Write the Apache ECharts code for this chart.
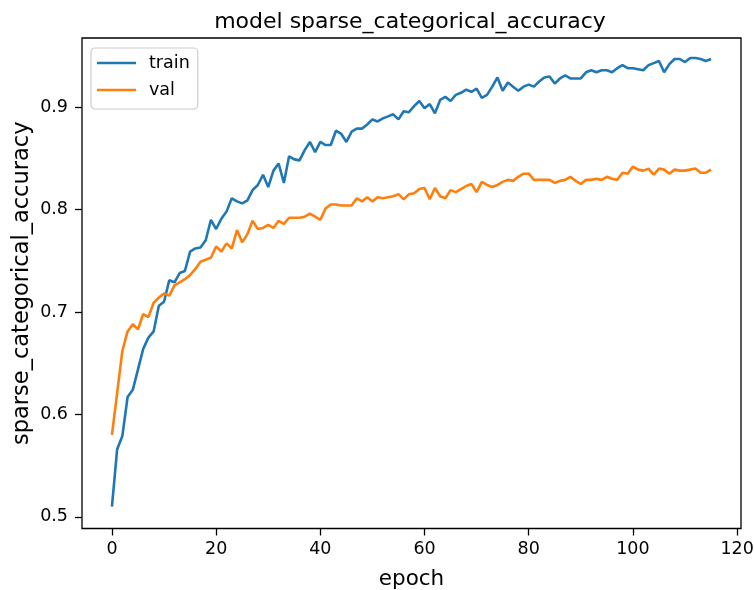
<!DOCTYPE html>
<html>
<head>
<meta charset="utf-8">
<title>model sparse_categorical_accuracy</title>
<script src="https://cdn.jsdelivr.net/npm/echarts@6/dist/echarts.min.js"></script>
<style>
  html, body { margin: 0; padding: 0; background: #fff; }
  #chart { width: 754px; height: 590px; }
</style>
</head>
<body>
<div id="chart"></div>
<script>
// accuracy per epoch (0..115)
const trainAcc = [
  0.510, 0.566, 0.579, 0.617, 0.624, 0.644, 0.664, 0.675, 0.681, 0.706,
  0.710, 0.731, 0.729, 0.738, 0.740, 0.759, 0.762, 0.763, 0.770, 0.790,
  0.781, 0.791, 0.798, 0.811, 0.808, 0.806, 0.809, 0.819, 0.824, 0.834,
  0.822, 0.838, 0.845, 0.826, 0.852, 0.849, 0.848, 0.858, 0.866, 0.856,
  0.866, 0.863, 0.863, 0.877, 0.874, 0.866, 0.876, 0.879, 0.879, 0.883,
  0.888, 0.886, 0.889, 0.891, 0.893, 0.888, 0.896, 0.895, 0.901, 0.906,
  0.899, 0.903, 0.894, 0.907, 0.910, 0.906, 0.912, 0.914, 0.917, 0.915,
  0.918, 0.909, 0.912, 0.920, 0.929, 0.916, 0.924, 0.920, 0.916, 0.920,
  0.922, 0.920, 0.925, 0.929, 0.930, 0.923, 0.928, 0.931, 0.928, 0.928,
  0.928, 0.934, 0.936, 0.934, 0.936, 0.936, 0.934, 0.938, 0.941, 0.938,
  0.938, 0.937, 0.936, 0.941, 0.943, 0.945, 0.934, 0.942, 0.947, 0.947,
  0.944, 0.948, 0.948, 0.947, 0.945, 0.947
];
const valAcc = [
  0.580, 0.621, 0.662, 0.681, 0.688, 0.683, 0.698, 0.695, 0.709, 0.714,
  0.718, 0.716, 0.726, 0.729, 0.732, 0.736, 0.742, 0.749, 0.751, 0.753,
  0.764, 0.759, 0.767, 0.762, 0.780, 0.768, 0.776, 0.789, 0.781, 0.782,
  0.785, 0.782, 0.789, 0.786, 0.792, 0.792, 0.792, 0.793, 0.796, 0.793,
  0.790, 0.801, 0.805, 0.805, 0.804, 0.804, 0.804, 0.811, 0.808, 0.812,
  0.808, 0.812, 0.811, 0.812, 0.813, 0.815, 0.810, 0.815, 0.816, 0.820,
  0.821, 0.810, 0.821, 0.813, 0.811, 0.819, 0.817, 0.820, 0.823, 0.825,
  0.817, 0.827, 0.824, 0.822, 0.824, 0.827, 0.829, 0.828, 0.832, 0.835,
  0.835, 0.829, 0.829, 0.829, 0.829, 0.826, 0.828, 0.829, 0.832, 0.828,
  0.825, 0.829, 0.829, 0.830, 0.829, 0.832, 0.830, 0.829, 0.836, 0.835,
  0.842, 0.839, 0.838, 0.840, 0.834, 0.840, 0.839, 0.835, 0.839, 0.838,
  0.838, 0.839, 0.840, 0.836, 0.836, 0.839
];
const xTicks = [0, 20, 40, 60, 80, 100, 120];
const yTicks = [0.5, 0.6, 0.7, 0.8, 0.9];

const FONT = "DejaVu Sans";

function toPairs(values) {
  return values.map((v, epoch) => [epoch, v]);
}

const chart = echarts.init(document.getElementById("chart"), null, {
  renderer: "canvas",
  width: 754,
  height: 590,
});

chart.setOption({
  animation: false,
  backgroundColor: "#fff",
  textStyle: { fontFamily: FONT },
  title: {
    text: "model sparse_categorical_accuracy",
    left: 405,
    top: 6,
    textAlign: "center",
    textStyle: { fontFamily: FONT, fontSize: 22, fontWeight: "normal", color: "#000" },
  },
  legend: {
    orient: "vertical",
    left: 91,
    top: 48,
    icon: "rect",
    itemWidth: 39,
    itemHeight: 2.5,
    itemGap: 7,
    padding: [5, 8, 9, 6],
    backgroundColor: "rgba(255,255,255,0.8)",
    borderColor: "#cccccc",
    borderWidth: 1.2,
    borderRadius: 4,
    textStyle: { fontFamily: FONT, fontSize: 17.5, color: "#000", lineHeight: 20, padding: [0, 0, 0, 8] },
    data: ["train", "val"],
  },
  grid: {
    left: 82,
    top: 38,
    width: 659,
    height: 490.5,
    outerBoundsMode: "none",
    containLabel: false,
    show: true,
    borderColor: "#000",
    borderWidth: 1.3,
    backgroundColor: "transparent",
  },
  xAxis: {
    type: "value",
    min: -5.75,
    max: 120.75,
    name: "epoch",
    nameLocation: "middle",
    nameGap: 40,
    nameMoveOverlap: false,
    nameTextStyle: { fontFamily: FONT, fontSize: 21.5, color: "#000" },
    axisLine: { show: false, onZero: false },
    axisTick: {
      show: true,
      length: 7,
      customValues: xTicks,
      lineStyle: { color: "#000", width: 1.3 },
    },
    axisLabel: {
      customValues: xTicks,
      margin: 12,
      fontFamily: FONT,
      fontSize: 17.5,
      color: "#000",
    },
    splitLine: { show: false },
  },
  yAxis: {
    type: "value",
    min: 0.4886,
    max: 0.9675,
    name: "sparse_categorical_accuracy",
    nameLocation: "middle",
    nameGap: 48,
    nameMoveOverlap: false,
    nameTextStyle: { fontFamily: FONT, fontSize: 22.5, color: "#000" },
    axisLine: { show: false, onZero: false },
    axisTick: {
      show: true,
      length: 7,
      customValues: yTicks,
      lineStyle: { color: "#000", width: 1.3 },
    },
    axisLabel: {
      customValues: yTicks,
      margin: 14,
      fontFamily: FONT,
      fontSize: 17.5,
      color: "#000",
      formatter: (v) => v.toFixed(1),
    },
    splitLine: { show: false },
  },
  series: [
    {
      name: "train",
      type: "line",
      data: toPairs(trainAcc),
      showSymbol: false,
      symbol: "none",
      color: "#1f77b4",
      lineStyle: { color: "#1f77b4", width: 2.6 },
      z: 2,
    },
    {
      name: "val",
      type: "line",
      data: toPairs(valAcc),
      showSymbol: false,
      symbol: "none",
      color: "#ff7f0e",
      lineStyle: { color: "#ff7f0e", width: 2.6 },
      z: 3,
    },
  ],
});
</script>
</body>
</html>
